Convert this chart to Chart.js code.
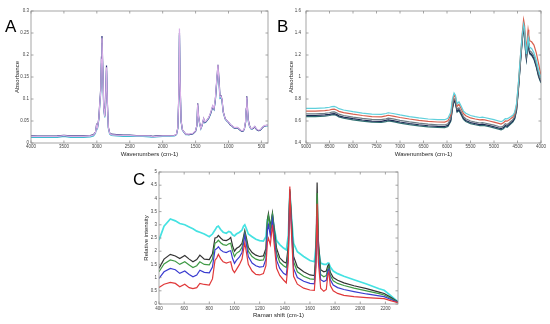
<!DOCTYPE html>
<html><head><meta charset="utf-8">
<script src="https://cdn.jsdelivr.net/npm/chart.js@4.4.1/dist/chart.umd.min.js"></script>
<style>
html,body{margin:0;padding:0;background:#fff;}
#wrap{position:relative;width:550px;height:324px;overflow:hidden;background:#fff;}
.pc{position:absolute;}
.lab{position:absolute;font-family:"Liberation Sans",Arial,sans-serif;font-size:17px;color:#000;line-height:1;}
</style></head><body>
<div id="wrap">
<canvas id="cA" class="pc" width="275" height="160" style="left:0;top:0"></canvas>
<canvas id="cB" class="pc" width="275" height="160" style="left:275px;top:0"></canvas>
<canvas id="cC" class="pc" width="280" height="164" style="left:130px;top:160px"></canvas>
<div class="lab" style="left:5px;top:18px">A</div>
<div class="lab" style="left:277px;top:18px">B</div>
<div class="lab" style="left:133px;top:171px">C</div>
</div>
<script>
// ---------- Panel A (FTIR mid) ----------
const wnA = [4000,3900,3800,3700,3600,3500,3400,3300,3200,3100,3050,3020,3005,2990,2970,2955,2940,2930,2922,2910,2895,2880,2868,2853,2840,2825,2805,2780,2700,2600,2500,2400,2300,2200,2150,2100,2000,1900,1820,1790,1770,1755,1745,1735,1720,1700,1650,1600,1540,1500,1480,1468,1455,1440,1420,1400,1377,1360,1340,1300,1270,1240,1220,1200,1180,1160,1145,1130,1115,1100,1080,1050,1020,1000,970,950,920,900,870,850,820,800,780,760,740,730,722,712,700,680,660,640,620,600,580,560,540,520,500,480,450,420,400];
const absA_pink = [0.015,0.0148,0.0148,0.0148,0.015,0.017,0.015,0.015,0.015,0.016,
0.018,0.024,0.04,0.035,0.055,0.09,0.12,0.19,0.238,0.17,
0.08,0.06,0.09,0.172,0.09,0.035,0.022,0.019,0.018,0.017,
0.017,0.016,0.016,0.016,0.014,0.015,0.016,0.016,0.017,0.02,
0.035,0.11,0.26,0.14,0.05,0.03,0.02,0.02,0.022,0.028,
0.04,0.088,0.06,0.045,0.033,0.042,0.056,0.048,0.05,0.058,
0.07,0.085,0.078,0.1,0.14,0.177,0.14,0.105,0.106,0.1,
0.07,0.055,0.05,0.048,0.042,0.04,0.036,0.035,0.036,0.034,
0.03,0.028,0.028,0.032,0.05,0.08,0.104,0.075,0.05,0.038,
0.033,0.033,0.035,0.038,0.033,0.03,0.029,0.03,0.033,0.037,
0.04,0.04,0.039];
const absA_navy = [0.016,0.0158,0.0157,0.0156,0.016,0.0175,0.016,0.016,0.016,0.017,
0.019,0.025,0.041,0.036,0.056,0.092,0.125,0.195,0.243,0.175,
0.082,0.061,0.092,0.176,0.092,0.036,0.023,0.02,0.019,0.018,
0.018,0.017,0.017,0.017,0.015,0.016,0.017,0.017,0.017,0.02,
0.034,0.105,0.25,0.135,0.05,0.03,0.02,0.019,0.021,0.027,
0.04,0.09,0.062,0.046,0.034,0.041,0.055,0.047,0.049,0.057,
0.068,0.083,0.077,0.098,0.138,0.178,0.147,0.108,0.108,0.1,
0.071,0.055,0.05,0.047,0.041,0.039,0.035,0.034,0.035,0.033,
0.029,0.027,0.027,0.031,0.048,0.078,0.106,0.08,0.053,0.039,
0.033,0.032,0.034,0.037,0.032,0.029,0.028,0.029,0.032,0.036,
0.039,0.04,0.04];
const absA_cyan = [0.013,0.0128,0.0128,0.0128,0.013,0.015,0.013,0.013,0.013,0.014,
0.016,0.022,0.038,0.033,0.052,0.086,0.115,0.18,0.228,0.165,
0.077,0.058,0.087,0.165,0.086,0.033,0.02,0.017,0.016,0.015,
0.015,0.015,0.015,0.014,0.013,0.014,0.015,0.015,0.016,0.019,
0.033,0.1,0.245,0.13,0.048,0.029,0.019,0.019,0.021,0.027,
0.039,0.084,0.058,0.044,0.032,0.04,0.053,0.046,0.048,0.056,
0.067,0.082,0.076,0.096,0.135,0.17,0.136,0.102,0.104,0.097,
0.069,0.054,0.049,0.047,0.041,0.039,0.035,0.034,0.035,0.033,
0.029,0.027,0.027,0.031,0.048,0.076,0.1,0.073,0.049,0.037,
0.032,0.032,0.034,0.037,0.032,0.029,0.028,0.029,0.032,0.036,
0.039,0.039,0.038];
const ticksA_x = [4000,3500,3000,2500,2000,1500,1000,500];
const ticksA_y = [0,0.05,0.1,0.15,0.2,0.25,0.3];

// ---------- Panel B (FT-NIR) ----------
const wnB = [9000,8800,8600,8500,8450,8400,8350,8300,8200,8000,7800,7600,7400,7300,7250,7150,7000,6800,6600,6400,6200,6050,5980,5920,5885,5850,5820,5785,5745,5705,5650,5600,5500,5400,5300,5250,5200,5100,5000,4900,4850,4800,4760,4720,4680,4640,4600,4560,4520,4480,4440,4400,4370,4350,4330,4310,4290,4275,4260,4240,4200,4150,4100,4050,4000];
const absB_cyan = [0.715,0.715,0.72,0.725,0.73,0.732,0.725,0.712,0.7,0.685,0.672,0.662,0.66,0.668,0.675,0.668,0.655,0.64,0.628,0.618,0.612,0.612,0.625,0.68,0.8,0.855,0.835,0.755,0.775,0.74,0.69,0.67,0.65,0.64,0.632,0.635,0.632,0.622,0.612,0.6,0.594,0.605,0.622,0.62,0.63,0.64,0.652,0.68,0.76,0.95,1.18,1.38,1.48,1.44,1.3,1.21,1.3,1.36,1.3,1.27,1.26,1.22,1.15,1.06,0.99];
const absB_red = [0.69,0.69,0.695,0.7,0.705,0.708,0.7,0.688,0.676,0.662,0.65,0.64,0.638,0.646,0.652,0.645,0.632,0.618,0.606,0.597,0.591,0.59,0.602,0.655,0.775,0.835,0.815,0.735,0.752,0.718,0.668,0.648,0.628,0.618,0.61,0.613,0.61,0.6,0.59,0.578,0.572,0.583,0.6,0.598,0.61,0.622,0.636,0.665,0.745,0.94,1.17,1.39,1.52,1.47,1.33,1.25,1.36,1.43,1.38,1.33,1.32,1.29,1.22,1.12,1.01];
const absB_gray = [0.665,0.665,0.67,0.675,0.68,0.682,0.675,0.662,0.65,0.636,0.624,0.614,0.612,0.62,0.626,0.619,0.606,0.592,0.58,0.571,0.565,0.564,0.575,0.625,0.74,0.805,0.785,0.705,0.72,0.688,0.64,0.62,0.6,0.59,0.582,0.585,0.582,0.572,0.562,0.55,0.545,0.555,0.575,0.568,0.582,0.598,0.612,0.64,0.72,0.91,1.14,1.35,1.46,1.42,1.27,1.19,1.28,1.33,1.28,1.24,1.225,1.19,1.12,1.03,0.97];
const absB_navy = [0.65,0.65,0.655,0.66,0.665,0.667,0.66,0.647,0.635,0.621,0.609,0.599,0.597,0.605,0.611,0.604,0.591,0.577,0.566,0.557,0.551,0.55,0.56,0.608,0.72,0.79,0.77,0.69,0.705,0.672,0.625,0.605,0.586,0.576,0.568,0.571,0.568,0.558,0.548,0.536,0.53,0.54,0.56,0.552,0.568,0.585,0.6,0.628,0.705,0.895,1.125,1.335,1.445,1.4,1.25,1.17,1.26,1.31,1.26,1.22,1.205,1.17,1.1,1.01,0.955];
const absB_teal = [0.64,0.64,0.645,0.65,0.655,0.657,0.65,0.637,0.625,0.611,0.599,0.589,0.587,0.595,0.601,0.594,0.581,0.567,0.556,0.547,0.541,0.54,0.55,0.598,0.708,0.78,0.76,0.68,0.695,0.662,0.615,0.595,0.576,0.566,0.558,0.561,0.558,0.548,0.538,0.526,0.52,0.53,0.55,0.542,0.558,0.575,0.59,0.618,0.695,0.885,1.115,1.325,1.435,1.39,1.24,1.16,1.25,1.3,1.25,1.21,1.195,1.16,1.09,1.0,0.945];
const ticksB_x = [9000,8500,8000,7500,7000,6500,6000,5500,5000,4500,4000];
const ticksB_y = [0.4,0.6,0.8,1,1.2,1.4,1.6];

// ---------- Panel C (Raman) ----------
const shiftC = [400,440,490,530,565,605,640,670,700,725,760,800,825,845,860,872,890,910,935,955,970,985,1000,1015,1040,1060,1072,1082,1095,1110,1140,1170,1200,1230,1250,1262,1270,1285,1302,1315,1335,1360,1390,1412,1428,1440,1452,1470,1500,1550,1600,1635,1648,1657,1667,1685,1710,1730,1742,1750,1762,1785,1820,1870,1950,2050,2150,2190,2240,2300];
const intC_cyan = [2.42,2.95,3.22,3.15,3.05,3.0,2.92,2.85,2.76,2.72,2.65,2.55,2.65,2.8,2.92,2.95,2.82,2.72,2.68,2.75,2.72,2.62,2.58,2.65,2.72,2.8,2.95,3.0,2.85,2.65,2.55,2.45,2.4,2.38,2.55,3.2,3.3,2.95,3.35,2.9,2.4,2.25,2.12,2.05,2.6,4.25,3.4,2.3,1.98,1.8,1.65,1.6,2.2,3.3,2.1,1.55,1.5,1.5,1.55,1.55,1.4,1.25,1.15,1.05,0.92,0.76,0.58,0.52,0.33,0.08];
const intC_black = [1.35,1.7,1.88,1.82,1.72,1.84,1.7,1.6,1.68,1.85,1.7,1.68,1.9,2.5,2.52,2.6,2.5,2.42,2.4,2.45,2.52,2.2,2.0,2.1,2.18,2.3,2.55,2.78,2.5,2.15,1.95,1.85,1.8,1.82,2.1,3.2,3.43,2.9,3.45,2.9,2.1,1.75,1.6,1.55,2.2,4.35,3.3,1.8,1.4,1.22,1.1,1.08,2.0,4.6,2.4,1.3,1.22,1.25,1.45,1.5,1.2,1.0,0.9,0.8,0.69,0.58,0.45,0.4,0.26,0.08];
const intC_green = [1.22,1.52,1.67,1.62,1.5,1.6,1.48,1.38,1.45,1.6,1.5,1.48,1.7,2.3,2.35,2.42,2.32,2.25,2.22,2.28,2.3,2.0,1.8,1.92,2.0,2.15,2.45,2.7,2.4,2.0,1.8,1.7,1.65,1.67,1.95,3.1,3.35,2.85,3.4,2.8,1.92,1.58,1.45,1.38,2.0,4.28,3.2,1.6,1.22,1.05,0.95,0.93,1.8,4.2,2.2,1.12,1.03,1.08,1.35,1.42,1.08,0.88,0.78,0.7,0.6,0.5,0.39,0.34,0.22,0.07];
const intC_blue = [0.97,1.22,1.35,1.3,1.16,1.25,1.12,1.03,1.1,1.28,1.2,1.18,1.4,2.05,2.1,2.17,2.05,1.98,1.95,2.0,2.02,1.72,1.54,1.65,1.78,1.95,2.3,2.61,2.25,1.8,1.55,1.45,1.4,1.42,1.7,2.8,3.0,2.6,3.2,2.55,1.65,1.35,1.16,1.1,1.8,4.22,3.0,1.35,1.0,0.86,0.78,0.76,1.6,3.3,1.9,0.92,0.85,0.9,1.25,1.32,0.92,0.72,0.62,0.55,0.47,0.38,0.31,0.28,0.18,0.06];
const intC_red = [0.63,0.75,0.82,0.78,0.65,0.75,0.62,0.58,0.62,0.78,0.74,0.72,0.95,1.65,1.75,1.88,1.72,1.6,1.55,1.58,1.6,1.3,1.19,1.3,1.5,1.7,2.05,2.32,1.95,1.5,1.25,1.12,1.1,1.15,1.45,2.35,2.49,2.25,3.0,2.3,1.35,1.08,0.91,0.8,1.6,4.45,2.8,1.05,0.75,0.6,0.53,0.52,1.4,3.8,1.6,0.6,0.48,0.55,1.1,1.2,0.7,0.5,0.4,0.33,0.28,0.24,0.21,0.2,0.13,0.05];
const ticksC_x = [400,600,800,1000,1200,1400,1600,1800,2000,2200];
const ticksC_y = [0,0.5,1,1.5,2,2.5,3,3.5,4,4.5,5];

// ---------- helpers ----------
const FAM = '"Liberation Sans", Arial, sans-serif';
const pts = (xs, ys) => xs.map((x, i) => ({x, y: ys[i]}));

const innerTicks = {
  id: 'innerTicks',
  afterDraw(chart) {
    const {ctx, chartArea: a, scales: {x, y}} = chart;
    ctx.save();
    ctx.strokeStyle = '#8f8f8f';
    ctx.lineWidth = 0.8;
    ctx.strokeRect(a.left, a.top, a.right - a.left, a.bottom - a.top);
    ctx.beginPath();
    x.ticks.forEach(t => {
      const p = x.getPixelForValue(t.value);
      ctx.moveTo(p, a.bottom); ctx.lineTo(p, a.bottom - 2.5);
      ctx.moveTo(p, a.top); ctx.lineTo(p, a.top + 2.5);
    });
    y.ticks.forEach(t => {
      const p = y.getPixelForValue(t.value);
      ctx.moveTo(a.left, p); ctx.lineTo(a.left + 2.5, p);
      ctx.moveTo(a.right, p); ctx.lineTo(a.right - 2.5, p);
    });
    ctx.stroke();
    ctx.restore();
  }
};

function makeChart(id, cfg) {
  const W = cfg.W, H = cfg.H, A = cfg.area;
  return new Chart(document.getElementById(id), {
    type: 'line',
    data: {datasets: cfg.datasets.map(d => ({
      data: d.data, borderColor: d.color, borderWidth: d.w || 1.2,
      pointRadius: 0, tension: 0, fill: false, order: d.order
    }))},
    options: {
      responsive: false, animation: false, devicePixelRatio: 1,
      layout: {padding: {left: 0, top: A.top, right: W - A.right, bottom: 0}},
      plugins: {legend: {display: false}, tooltip: {enabled: false}},
      scales: {
        x: {
          type: 'linear', reverse: cfg.xrev, min: cfg.xmin, max: cfg.xmax,
          afterBuildTicks: s => { s.ticks = cfg.xticks.map(v => ({value: v})); },
          afterFit: s => { s.height = H - A.bottom; },
          grid: {display: false, drawTicks: false},
          border: {display: false},
          ticks: {font: {size: 4.5, family: FAM}, color: '#444', padding: cfg.xtp, maxRotation: 0, autoSkip: false, callback: v => String(v)},
          title: {display: true, text: cfg.xtitle, font: {size: 6, family: FAM}, color: '#222', padding: {top: 0, bottom: cfg.xtitlePad}}
        },
        y: {
          type: 'linear', min: cfg.ymin, max: cfg.ymax,
          afterBuildTicks: s => { s.ticks = cfg.yticks.map(v => ({value: v})); },
          afterFit: s => { s.width = A.left; },
          grid: {display: false, drawTicks: false},
          border: {display: false},
          ticks: {font: {size: 4.5, family: FAM}, color: '#444', padding: cfg.ytp, autoSkip: false, callback: v => String(v)},
          title: {display: true, text: cfg.ytitle, font: {size: 6, family: FAM}, color: '#222', padding: {top: cfg.ytitlePad, bottom: 0}}
        }
      }
    },
    plugins: [innerTicks]
  });
}

makeChart('cA', {
  W: 275, H: 160, area: {left: 31, top: 11, right: 268, bottom: 143},
  xrev: true, xmin: 400, xmax: 4000, ymin: 0, ymax: 0.3,
  xticks: ticksA_x, yticks: ticksA_y, xtp: 1, ytp: 2,
  xtitle: 'Wavenumbers (cm-1)', ytitle: 'Absorbance', xtitlePad: 2.4, ytitlePad: 13.4,
  datasets: [
    {data: pts(wnA, absA_pink), color: '#d9b0e8', order: 0},
    {data: pts(wnA, absA_navy), color: '#2b2f7c', order: 1},
    {data: pts(wnA, absA_cyan), color: '#3fbccf', order: 2}
  ]
});

makeChart('cB', {
  W: 275, H: 160, area: {left: 31, top: 11, right: 266, bottom: 143},
  xrev: true, xmin: 4000, xmax: 9000, ymin: 0.4, ymax: 1.6,
  xticks: ticksB_x, yticks: ticksB_y, xtp: 1, ytp: 5,
  xtitle: 'Wavenumbers (cm-1)', ytitle: 'Absorbance', xtitlePad: 2.4, ytitlePad: 12.4,
  datasets: [
    {data: pts(wnB, absB_red), color: '#d9604e', order: 1},
    {data: pts(wnB, absB_cyan), color: '#5fd0dc', order: 0},
    {data: pts(wnB, absB_gray), color: '#6f7d86', order: 2},
    {data: pts(wnB, absB_navy), color: '#1d2a55', order: 3},
    {data: pts(wnB, absB_teal), color: '#2f6f70', order: 4}
  ]
});

makeChart('cC', {
  W: 280, H: 164, area: {left: 29, top: 12, right: 268, bottom: 144},
  xrev: false, xmin: 400, xmax: 2300, ymin: 0, ymax: 5,
  xticks: ticksC_x, yticks: ticksC_y, xtp: 2.3, ytp: 2,
  xtitle: 'Raman shift (cm-1)', ytitle: 'Relative intensity', xtitlePad: 5.4, ytitlePad: 13.1,
  datasets: [
    {data: pts(shiftC, intC_red), color: '#e0393a', order: 0},
    {data: pts(shiftC, intC_blue), color: '#3a3ccf', order: 1},
    {data: pts(shiftC, intC_green), color: '#3f9a45', order: 2},
    {data: pts(shiftC, intC_black), color: '#333333', order: 3},
    {data: pts(shiftC, intC_cyan), color: '#45e2e2', order: 4, w: 1.7}
  ]
});
</script>
</body></html>
